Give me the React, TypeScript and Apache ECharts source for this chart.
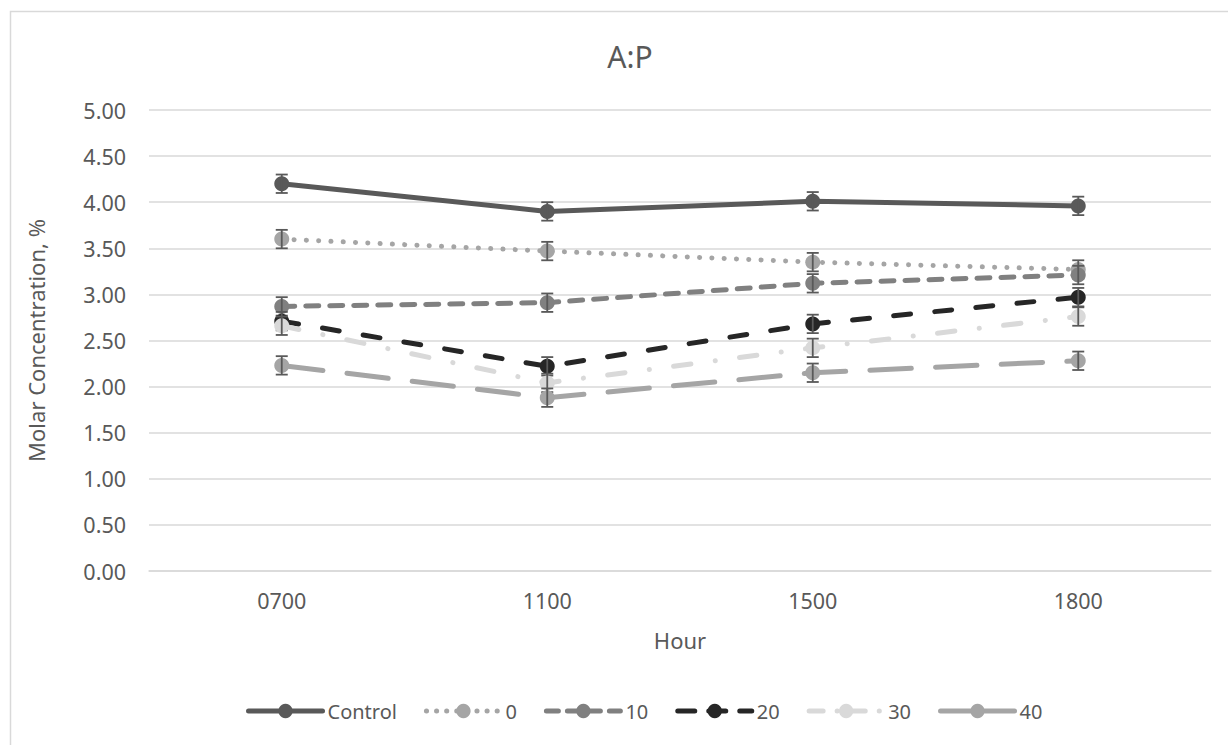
import React, { useEffect, useRef } from "react";
import * as echarts from "echarts";

const categories = ["0700", "1100", "1500", "1800"];
const seriesNames = ["Control", "0", "10", "20", "30", "40"];
const controlValues = [4.2, 3.9, 4.01, 3.96];
const zeroValues = [3.6, 3.47, 3.35, 3.27];
const tenValues = [2.87, 2.91, 3.12, 3.21];
const twentyValues = [2.71, 2.22, 2.68, 2.97];
const thirtyValues = [2.66, 2.04, 2.42, 2.76];
const fortyValues = [2.23, 1.88, 2.15, 2.28];
const controlErr = [0.1, 0.1, 0.1, 0.1];
const zeroErr = [0.1, 0.1, 0.1, 0.1];
const tenErr = [0.1, 0.1, 0.1, 0.1];
const twentyErr = [0.1, 0.1, 0.1, 0.1];
const thirtyErr = [0.1, 0.1, 0.1, 0.1];
const fortyErr = [0.1, 0.1, 0.1, 0.1];
const yTicks = [0, 5, 0.5];

const FONT = "'Noto Sans', sans-serif";
const TXT = "#595959";

export default function App() {
  const ref = useRef<HTMLDivElement>(null);
  useEffect(() => {
    if (!ref.current) return;
    const chart = echarts.init(ref.current, undefined, { renderer: "svg" });
    const values = [controlValues, zeroValues, tenValues, twentyValues, thirtyValues, fortyValues];
    const errs = [controlErr, zeroErr, tenErr, twentyErr, thirtyErr, fortyErr];
    const colors = ["#595959", "#A5A5A5", "#808080", "#262626", "#D9D9D9", "#A5A5A5"];
    const dashes: any[] = ["solid", [0.1, 12.2], [13, 11], [17, 24.3], [17.5, 24.5, 0.1, 24.4], [41.5, 24.2]];
    const legendDashes: any[] = ["solid", [0.1, 10], [12, 9], [17, 14], [14, 14, 0.1, 14], [30, 14]];
    const series: any[] = [];
    values.forEach((vals, i) => {
      series.push({
        name: seriesNames[i],
        type: "line",
        data: vals,
        symbol: "circle",
        symbolSize: 15,
        z: 2 + i * 2,
        itemStyle: { color: colors[i] },
        lineStyle: { color: colors[i], width: 5, type: dashes[i], cap: "round", join: "round" },
      });
      series.push({
        name: seriesNames[i],
        type: "custom",
        z: 3 + i * 2,
        data: vals.map((v, j) => [j, v, errs[i][j]]),
        renderItem: (params: any, api: any) => {
          const x = api.value(0);
          const v = api.value(1);
          const e = api.value(2);
          const top = api.coord([x, v + e]);
          const bot = api.coord([x, v - e]);
          const hw = 6;
          const st = { stroke: "#595959", lineWidth: 1.8 };
          return {
            type: "group",
            children: [
              { type: "line", shape: { x1: top[0], y1: top[1], x2: bot[0], y2: bot[1] }, style: st },
              { type: "line", shape: { x1: top[0] - hw, y1: top[1], x2: top[0] + hw, y2: top[1] }, style: st },
              { type: "line", shape: { x1: bot[0] - hw, y1: bot[1], x2: bot[0] + hw, y2: bot[1] }, style: st },
            ],
          };
        },
      });
    });
    chart.setOption({
      animation: false,
      backgroundColor: "#ffffff",
      title: {
        text: "A:P",
        left: 625,
        top: 36,
        textAlign: "center",
        textStyle: { fontFamily: FONT, fontSize: 30, fontWeight: "normal", color: TXT },
      },
      graphic: [
        {
          type: "rect",
          shape: { x: 10.5, y: 11.5, width: 1240, height: 760 },
          style: { fill: "none", stroke: "#D9D9D9", lineWidth: 1.5 },
          silent: true,
        },
      ],
      legend: {
        data: seriesNames.map((n, i) => ({
          name: n,
          lineStyle: { width: 5, type: legendDashes[i], cap: "round", color: colors[i] },
        })),
        bottom: 19,
        left: 241,
        itemWidth: 74,
        itemHeight: 18,
        itemGap: 27,
        lineStyle: { width: 5, cap: "round" },
        textStyle: { fontFamily: FONT, fontSize: 20, color: TXT },
      },
      grid: { left: 149, right: 17, top: 110, bottom: 174, containLabel: false },
      xAxis: {
        type: "category",
        data: categories,
        boundaryGap: true,
        name: "Hour",
        nameLocation: "middle",
        nameGap: 58,
        nameTextStyle: { fontFamily: FONT, fontSize: 22, color: TXT },
        axisLine: { show: true, lineStyle: { color: "#D9D9D9", width: 1.5 } },
        axisTick: { show: false },
        axisLabel: { fontFamily: FONT, fontSize: 21.5, color: TXT, margin: 18 },
      },
      yAxis: {
        type: "value",
        min: yTicks[0],
        max: yTicks[1],
        interval: yTicks[2],
        name: "Molar Concentration, %",
        nameLocation: "middle",
        nameGap: 102,
        nameTextStyle: { fontFamily: FONT, fontSize: 22, color: TXT },
        axisLine: { show: false },
        axisTick: { show: false },
        axisLabel: {
          fontFamily: FONT,
          fontSize: 21.5,
          color: TXT,
          margin: 23,
          formatter: (v: number) => v.toFixed(2),
        },
        splitLine: { lineStyle: { color: "#D9D9D9", width: 1.5 } },
      },
      series,
    });
    return () => chart.dispose();
  }, []);
  return (
    <div
      ref={ref}
      style={{ position: "fixed", left: 0, top: 0, width: 1228, height: 745, background: "#fff" }}
    />
  );
}
